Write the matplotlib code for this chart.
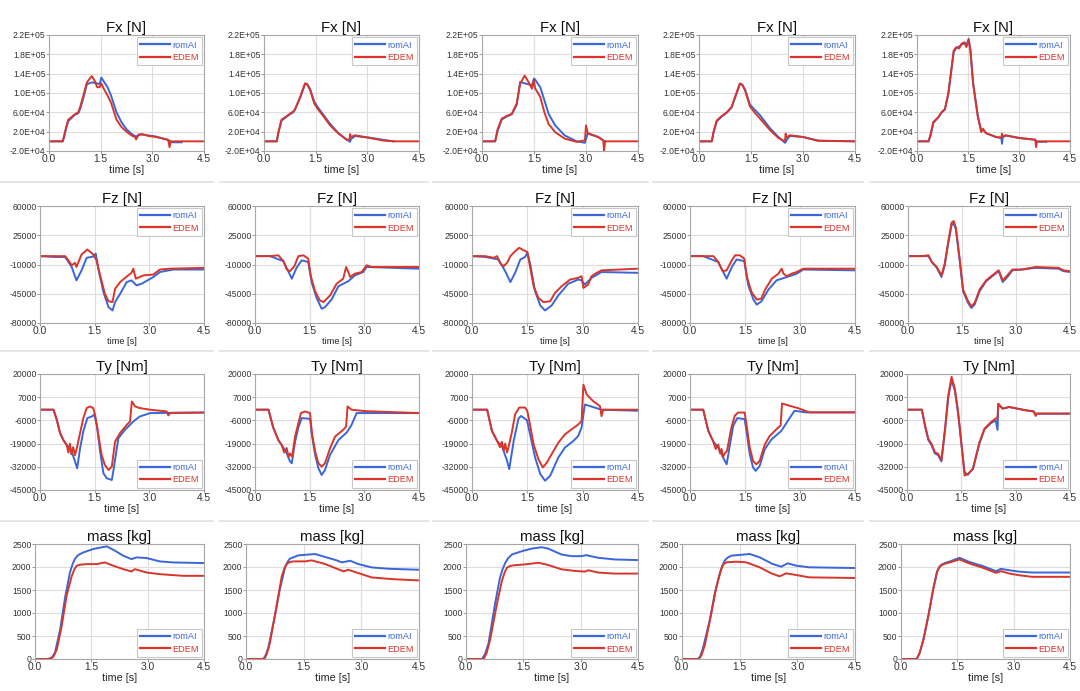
import numpy as np
import matplotlib
matplotlib.use('Agg')
import matplotlib.pyplot as plt
from matplotlib.ticker import FormatStrFormatter
from matplotlib.lines import Line2D

nan = np.nan

# ---------------- data ----------------
series_names = ['romAI', 'EDEM']
titles = ['Fx [N]', 'Fz [N]', 'Ty [Nm]', 'mass [kg]']
x_ticks = [0.0, 1.5, 3.0, 4.5]
fx_ticks = [-2.0e4, 2.0e4, 6.0e4, 1.0e5, 1.4e5, 1.8e5, 2.2e5]
fz_ticks = [-80000, -45000, -10000, 25000, 60000]
ty_ticks = [-45000, -32000, -19000, -6000, 7000, 20000]
mass_ticks = [0, 500, 1000, 1500, 2000, 2500]

# Fx row
fx1_t = [0, 0.40, 0.45, 0.50, 0.56, 0.65, 0.75, 0.85, 0.90, 1.00, 1.10, 1.24, 1.32, 1.40, 1.47, 1.52, 1.58, 1.70, 1.80, 1.96, 2.10, 2.25, 2.40, 2.50, 2.53, 2.60, 2.70, 2.90, 3.10, 3.30, 3.46, 3.50, 3.53, 3.85, 4.5]
fx1_edem = [0, 0, 15000, 30000, 45000, 50000, 56000, 60000, 70000, 95000, 122000, 135000, 126000, 112000, 112000, 120000, 110000, 95000, 80000, 45000, 30000, 20000, 12000, 9000, 4000, 14000, 15000, 11000, 9000, 6000, 3000, -12000, 0, 0, 0]
fx1_rom = [0, 0, 12000, 28000, 42000, 48000, 55000, 58000, 66000, 90000, 118000, 122000, 121000, 120000, 118000, 132000, 125000, 112000, 95000, 60000, 40000, 25000, 15000, 11000, 10000, 13000, 14000, 12000, 10000, 6000, 3000, 1000, -2000, -2000, nan]

fx2_t = [0, 0.37, 0.42, 0.51, 0.62, 0.75, 0.85, 0.90, 1.05, 1.19, 1.25, 1.34, 1.46, 1.55, 1.67, 1.92, 2.16, 2.40, 2.48, 2.50, 2.52, 2.64, 3.03, 3.47, 3.76, 4.5]
fx2_edem = [0, 0, 20000, 45000, 50000, 57000, 62000, 66000, 92000, 120000, 118000, 106000, 78000, 68000, 57000, 33000, 16000, 4000, 3000, 15000, 9000, 12500, 7500, 1500, 0, 0]
fx2_rom = [0, 0, 18000, 43000, 49000, 56000, 60000, 66000, 90000, 118000, 119000, 108000, 82000, 72000, 60000, 36000, 17000, 3000, 0, -1000, 4000, 11000, 8000, 3000, 0, nan]

fx3_t = [0, 0.38, 0.45, 0.57, 0.70, 0.86, 1.00, 1.10, 1.23, 1.34, 1.44, 1.50, 1.53, 1.68, 1.80, 1.92, 2.11, 2.39, 2.73, 2.97, 3.00, 3.05, 3.35, 3.50, 3.52, 3.55, 4.5]
fx3_edem = [0, 0, 25000, 47000, 52000, 57000, 78000, 119000, 136000, 123000, 109000, 126000, 110000, 92000, 60000, 36000, 19000, 5500, -1000, 2000, 33000, 17000, 9000, 2000, -20000, 0, 0]
fx3_rom = [0, 0, 22000, 45000, 51000, 56000, 75000, 123000, 120000, 118000, 116000, 130000, 128000, 112000, 85000, 57000, 33000, 12000, 0, -3000, 5000, 16000, 9000, 2000, 0, 0, nan]

fx4_t = [0, 0.37, 0.42, 0.51, 0.65, 0.80, 0.94, 1.04, 1.18, 1.25, 1.33, 1.47, 1.60, 1.76, 2.05, 2.29, 2.48, 2.50, 2.53, 2.62, 3.00, 3.44, 4.5]
fx4_edem = [0, 0, 20000, 43000, 52000, 60000, 71000, 92000, 120000, 117000, 105000, 72000, 60000, 47000, 23000, 7000, 0, 16000, 8000, 12500, 9000, 1000, 0]
fx4_rom = [0, 0, 18000, 41000, 51000, 59000, 70000, 90000, 118000, 117000, 107000, 76000, 66000, 54000, 27000, 9000, -3000, -2000, 3000, 11000, 9000, 1500, 0]

fx5_t = [0, 0.34, 0.40, 0.48, 0.63, 0.73, 0.82, 0.92, 1.02, 1.08, 1.16, 1.24, 1.31, 1.40, 1.45, 1.52, 1.57, 1.65, 1.79, 1.89, 1.94, 2.03, 2.32, 2.48, 2.50, 2.52, 2.61, 3.00, 3.48, 3.50, 3.53, 3.80, 4.5]
fx5_edem = [0, 0, 15000, 40000, 50000, 61000, 66000, 99000, 154000, 188000, 195000, 192000, 202000, 205000, 195000, 210000, 188000, 119000, 50000, 19000, 26000, 17000, 9000, 7500, 16000, 10000, 12500, 7000, 3500, -12000, 0, 0, 0]
fx5_rom = [0, 0, 12000, 38000, 50000, 60000, 66000, 97000, 152000, 185000, 193000, 196000, 200000, 203000, 198000, 212000, 190000, 122000, 52000, 22000, 24000, 17000, 9000, 7000, -5000, 8000, 12000, 7000, 3000, 1000, -1000, -1000, nan]

# Fz row
fz1_rom_t = [0, 0.41, 0.69, 0.87, 1.00, 1.14, 1.28, 1.46, 1.53, 1.60, 1.74, 1.88, 1.99, 2.06, 2.20, 2.38, 2.51, 2.65, 2.79, 3.11, 3.29, 3.66, 4.5]
fz1_rom = [0, -1000, -1000, -13000, -29000, -17000, -2000, -500, 3000, -15000, -43000, -61000, -65000, -55000, -45000, -31000, -29000, -35000, -33000, -25000, -19000, -16000, -16000]
fz1_edem_t = [0, 0.41, 0.69, 0.78, 0.87, 0.96, 1.00, 1.14, 1.30, 1.46, 1.55, 1.65, 1.78, 1.88, 1.99, 2.06, 2.20, 2.42, 2.51, 2.56, 2.63, 2.84, 3.11, 3.29, 3.57, 4.5]
fz1_edem = [0, 0, 0, -5000, -11000, -8000, -13000, 2000, 8000, 2000, -5000, -23000, -45000, -54000, -55000, -39000, -31000, -23000, -20000, -15000, -27000, -23000, -22000, -16000, -15000, -14000]

fz2_rom_t = [0, 0.41, 0.78, 1.01, 1.14, 1.28, 1.46, 1.56, 1.69, 1.83, 1.92, 2.10, 2.29, 2.56, 2.74, 2.97, 3.06, 4.5]
fz2_rom = [0, 0, -6000, -27000, -14000, -5000, -7000, -32000, -50000, -63000, -61000, -52000, -36000, -30000, -23000, -19000, -13000, -15000]
fz2_edem_t = [0, 0.41, 0.64, 0.78, 0.87, 0.96, 1.08, 1.19, 1.33, 1.46, 1.53, 1.65, 1.78, 1.88, 2.06, 2.24, 2.42, 2.50, 2.56, 2.61, 2.74, 2.93, 3.06, 3.20, 4.5]
fz2_edem = [0, 0, 1000, -6000, -16000, -18000, -12000, 0, 1000, -3000, -24000, -42000, -53000, -55000, -47000, -33000, -27000, -13000, -19000, -25000, -21000, -19000, -11000, -13000, -13000]

fz3_rom_t = [0, 0.36, 0.72, 0.90, 1.04, 1.17, 1.31, 1.44, 1.50, 1.58, 1.71, 1.85, 1.98, 2.16, 2.34, 2.61, 2.88, 2.97, 3.06, 3.24, 3.51, 4.5]
fz3_rom = [0, -1000, -4000, -18000, -31000, -20000, -4000, -1000, 4000, -10000, -42000, -59000, -65000, -59000, -47000, -33000, -28000, -29000, -34000, -26000, -19000, -20000]
fz3_edem_t = [0, 0.36, 0.59, 0.68, 0.77, 0.86, 0.95, 1.04, 1.17, 1.28, 1.40, 1.50, 1.58, 1.67, 1.80, 1.94, 2.12, 2.25, 2.43, 2.66, 2.88, 2.97, 3.02, 3.15, 3.24, 3.38, 3.51, 4.5]
fz3_edem = [0, 0, -2000, 0, -9000, -12000, -8000, 0, 6000, 10000, 7000, 5000, -14000, -36000, -50000, -55000, -54000, -44000, -36000, -28000, -26000, -24000, -38000, -34000, -24000, -20000, -17000, -15000]

fz4_rom_t = [0, 0.36, 0.77, 1.00, 1.14, 1.27, 1.48, 1.59, 1.73, 1.82, 1.95, 2.14, 2.36, 2.64, 2.91, 3.09, 4.5]
fz4_rom = [0, 0, -7000, -27000, -13000, -4000, -6000, -35000, -52000, -58000, -54000, -40000, -29000, -25000, -21000, -16000, -17000]
fz4_edem_t = [0, 0.36, 0.64, 0.77, 0.89, 1.00, 1.14, 1.23, 1.36, 1.48, 1.55, 1.68, 1.82, 1.94, 2.05, 2.23, 2.41, 2.50, 2.55, 2.64, 2.77, 2.91, 3.09, 4.5]
fz4_edem = [0, 0, 0, -7000, -18000, -17000, -5000, 1000, 1000, -3000, -25000, -43000, -52000, -51000, -40000, -27000, -21000, -15000, -21000, -24000, -21000, -19000, -15000, -15000]

fz5_t = [0, 0.38, 0.57, 0.66, 0.80, 0.93, 1.02, 1.12, 1.21, 1.27, 1.33, 1.44, 1.53, 1.67, 1.76, 1.85, 1.99, 2.17, 2.40, 2.52, 2.63, 2.76, 2.90, 3.17, 3.54, 4.18, 4.32, 4.5]
fz5_edem = [0, 0, 1000, -7000, -13000, -23000, -9000, 18000, 40000, 42000, 34000, -5000, -40000, -54000, -60000, -56000, -40000, -29000, -21000, -17000, -29000, -23000, -16000, -16000, -13000, -14000, -17000, -18000]
fz5_rom = [0, 0, 0, -7000, -14000, -25000, -11000, 16000, 37000, 39000, 32000, -7000, -42000, -56000, -62000, -58000, -42000, -30000, -22000, -18000, -31000, -25000, -17000, -16000, -14000, -15000, -18000, -19000]

# Ty row
ty1_rom_t = [0, 0.37, 0.46, 0.55, 0.64, 0.73, 0.82, 0.87, 0.96, 1.02, 1.10, 1.19, 1.30, 1.42, 1.49, 1.56, 1.65, 1.74, 1.83, 1.97, 2.01, 2.15, 2.33, 2.47, 2.56, 2.74, 3.02, 4.5]
ty1_rom = [0, 0, -5600, -13000, -17000, -19700, -21600, -23500, -29000, -32800, -21600, -12000, -4700, -3800, -2800, -8500, -23500, -35600, -38400, -39400, -34700, -16000, -11300, -8500, -6600, -3800, -1900, -1600]
ty1_edem_t = [0, 0.37, 0.46, 0.55, 0.64, 0.73, 0.78, 0.82, 0.86, 0.91, 0.96, 1.01, 1.10, 1.19, 1.28, 1.37, 1.46, 1.51, 1.60, 1.69, 1.78, 1.88, 1.97, 2.06, 2.20, 2.38, 2.47, 2.52, 2.61, 2.74, 3.02, 3.48, 3.52, 3.57, 4.5]
ty1_edem = [0, 0, -5600, -13000, -17000, -19700, -24000, -19000, -25000, -21000, -25500, -21600, -13000, -4700, 900, 1800, 900, -2800, -14000, -25300, -31000, -33800, -31900, -17900, -13000, -8500, -6600, 4600, 1800, 900, 0, -1000, -3200, -1800, -1600]

ty2_rom_t = [0, 0.37, 0.50, 0.64, 0.73, 0.87, 0.96, 1.01, 1.10, 1.19, 1.28, 1.51, 1.56, 1.65, 1.74, 1.83, 1.92, 2.06, 2.29, 2.52, 2.65, 2.79, 4.5]
ty2_rom = [0, 0, -10000, -17000, -19700, -24400, -29000, -30000, -17900, -10000, -4700, -5100, -14000, -25300, -32800, -36600, -33800, -25300, -17000, -12700, -8500, -1900, -1900]
ty2_edem_t = [0, 0.37, 0.50, 0.64, 0.73, 0.80, 0.87, 0.92, 0.96, 1.02, 1.10, 1.19, 1.26, 1.37, 1.51, 1.56, 1.65, 1.74, 1.83, 1.92, 2.06, 2.20, 2.42, 2.50, 2.54, 2.65, 3.02, 4.5]
ty2_edem = [0, 0, -10000, -17000, -19700, -24000, -21500, -26500, -24500, -26300, -15000, -7600, -1900, -1000, -1900, -13000, -23500, -30000, -31900, -30000, -21600, -15000, -11300, -9400, 1800, 0, -800, -1900]

ty3_rom_t = [0, 0.41, 0.54, 0.68, 0.81, 0.95, 1.01, 1.13, 1.26, 1.33, 1.49, 1.58, 1.71, 1.85, 1.98, 2.12, 2.34, 2.52, 2.75, 2.88, 2.97, 3.06, 3.20, 3.51, 4.5]
ty3_rom = [0, 0, -11900, -17500, -20300, -28600, -33300, -17500, -5000, -3500, -5900, -14300, -26800, -36000, -39800, -37000, -26800, -21200, -17500, -14700, -10000, 2900, 2000, 0, -600]
ty3_edem_t = [0, 0.41, 0.54, 0.68, 0.76, 0.81, 0.86, 0.90, 0.95, 0.99, 1.08, 1.17, 1.28, 1.44, 1.50, 1.58, 1.67, 1.80, 1.92, 2.03, 2.16, 2.34, 2.52, 2.70, 2.88, 2.97, 3.02, 3.11, 3.29, 3.47, 3.51, 3.56, 4.5]
ty3_edem = [0, 0, -11900, -17500, -21000, -18000, -23000, -19000, -24000, -21000, -12700, -2500, 1200, 1200, -800, -9200, -19400, -27700, -32400, -29600, -24900, -18500, -13800, -11000, -8300, -6400, 14000, 8500, 4700, 2000, -3600, 0, 0]

ty4_rom_t = [0, 0.36, 0.50, 0.63, 0.77, 0.86, 0.95, 1.00, 1.09, 1.18, 1.29, 1.49, 1.54, 1.63, 1.72, 1.79, 1.90, 2.04, 2.22, 2.49, 2.72, 2.85, 3.17, 4.5]
ty4_rom = [0, 0, -11900, -17600, -21300, -25000, -28700, -30600, -19500, -9000, -4700, -5300, -12000, -25000, -32400, -34300, -31500, -22100, -16700, -11900, -4600, -600, -1500, -1500]
ty4_edem_t = [0, 0.36, 0.50, 0.63, 0.70, 0.77, 0.82, 0.86, 0.90, 0.95, 1.01, 1.13, 1.22, 1.31, 1.49, 1.54, 1.63, 1.72, 1.81, 1.90, 2.04, 2.17, 2.40, 2.47, 2.51, 2.72, 2.94, 3.26, 4.5]
ty4_edem = [0, 0, -11900, -17600, -22000, -19500, -24500, -22000, -26500, -24500, -23000, -9900, -3400, -1600, -1600, -8200, -21300, -28700, -30600, -28700, -19500, -14800, -10100, -9000, 3500, 2200, 900, -1500, -1500]

ty5_t = [0, 0.41, 0.50, 0.59, 0.68, 0.77, 0.86, 0.95, 1.05, 1.14, 1.23, 1.32, 1.41, 1.50, 1.59, 1.68, 1.82, 1.91, 2.00, 2.14, 2.32, 2.45, 2.50, 2.52, 2.64, 2.82, 3.27, 3.50, 3.55, 3.59, 4.5]
ty5_edem = [0, 0, -8900, -16500, -19200, -23900, -24700, -28400, -10600, 8100, 18400, 11800, -1300, -18200, -36900, -36000, -33200, -25700, -18200, -10600, -6900, -5000, -4000, 3400, 600, 1500, -300, -1000, -3500, -2200, -2200]
ty5_rom = [0, 0, -9500, -17000, -20000, -24500, -25500, -29000, -11500, 7000, 16500, 11000, -2000, -19000, -35000, -36500, -33000, -26000, -19000, -11000, -7500, -6000, -11300, 3000, 600, 1500, -300, -1000, -2500, -2200, -2200]

# mass row
m1_rom_t = [0, 0.35, 0.45, 0.53, 0.67, 0.80, 0.93, 1.00, 1.06, 1.15, 1.29, 1.55, 1.91, 2.13, 2.35, 2.57, 2.71, 2.97, 3.33, 3.68, 4.5]
m1_rom = [0, 0, 35, 131, 641, 1334, 1880, 2060, 2172, 2260, 2318, 2391, 2449, 2354, 2245, 2172, 2209, 2194, 2121, 2099, 2085]
m1_edem_t = [0, 0.40, 0.49, 0.58, 0.71, 0.84, 0.98, 1.05, 1.11, 1.20, 1.38, 1.64, 1.86, 2.09, 2.35, 2.57, 2.66, 2.97, 3.33, 3.95, 4.5]
m1_edem = [0, 0, 50, 204, 714, 1370, 1808, 1950, 2026, 2050, 2063, 2063, 2099, 2026, 1953, 1902, 1953, 1880, 1844, 1808, 1808]

m2_rom_t = [0, 0.45, 0.51, 0.58, 0.75, 0.88, 1.01, 1.08, 1.14, 1.36, 1.80, 2.06, 2.36, 2.49, 2.71, 2.92, 3.27, 3.70, 4.5]
m2_rom = [0, 0, 80, 240, 930, 1512, 1977, 2110, 2180, 2253, 2282, 2217, 2144, 2100, 2136, 2064, 1991, 1962, 1940]
m2_edem_t = [0, 0.48, 0.54, 0.62, 0.80, 0.93, 1.00, 1.06, 1.13, 1.23, 1.54, 1.71, 2.06, 2.32, 2.54, 2.66, 2.92, 3.27, 3.79, 4.5]
m2_edem = [0, 0, 110, 342, 1177, 1795, 1975, 2064, 2105, 2122, 2122, 2144, 2064, 1977, 1904, 1940, 1868, 1773, 1737, 1708]

m3_rom_t = [0, 0.42, 0.50, 0.59, 0.76, 0.89, 0.96, 1.03, 1.10, 1.20, 1.46, 1.72, 1.98, 2.15, 2.50, 2.76, 3.02, 3.15, 3.46, 3.89, 4.5]
m3_rom = [0, 0, 110, 343, 1200, 1771, 1960, 2093, 2190, 2271, 2343, 2400, 2429, 2400, 2271, 2236, 2236, 2257, 2200, 2164, 2150]
m3_edem_t = [0, 0.46, 0.54, 0.63, 0.81, 0.94, 1.01, 1.07, 1.15, 1.24, 1.55, 1.90, 2.15, 2.50, 2.85, 3.11, 3.20, 3.46, 3.89, 4.5]
m3_edem = [0, 0, 130, 414, 1200, 1700, 1880, 1986, 2020, 2036, 2057, 2093, 2043, 1950, 1914, 1900, 1929, 1879, 1857, 1857]

m4_rom_t = [0, 0.42, 0.48, 0.54, 0.72, 0.85, 0.98, 1.05, 1.11, 1.18, 1.28, 1.58, 1.76, 2.02, 2.36, 2.58, 2.75, 2.97, 3.31, 4.5]
m4_rom = [0, 0, 70, 217, 833, 1413, 1848, 2030, 2138, 2200, 2246, 2268, 2283, 2210, 2065, 2007, 2080, 2029, 1993, 1978]
m4_edem_t = [0, 0.44, 0.51, 0.59, 0.76, 0.89, 1.02, 1.08, 1.15, 1.41, 1.67, 2.02, 2.32, 2.54, 2.71, 2.97, 3.31, 4.5]
m4_edem = [0, 0, 90, 290, 978, 1558, 1957, 2060, 2101, 2116, 2101, 1993, 1862, 1797, 1862, 1826, 1775, 1761]

m5_t = [0, 0.42, 0.50, 0.60, 0.73, 0.86, 0.96, 1.02, 1.08, 1.18, 1.30, 1.56, 1.82, 2.18, 2.53, 2.66, 2.88, 3.14, 3.49, 4.5]
m5_edem = [0, 0, 140, 437, 948, 1531, 1895, 1990, 2041, 2075, 2099, 2165, 2077, 1983, 1873, 1910, 1859, 1822, 1786, 1786]
m5_rom = [0, 0, 135, 430, 940, 1525, 1900, 2000, 2050, 2090, 2120, 2200, 2110, 2020, 1910, 1960, 1930, 1900, 1880, 1880]

panels = [
    [(fx1_t, fx1_rom, fx1_t, fx1_edem), (fx2_t, fx2_rom, fx2_t, fx2_edem), (fx3_t, fx3_rom, fx3_t, fx3_edem),
     (fx4_t, fx4_rom, fx4_t, fx4_edem), (fx5_t, fx5_rom, fx5_t, fx5_edem)],
    [(fz1_rom_t, fz1_rom, fz1_edem_t, fz1_edem), (fz2_rom_t, fz2_rom, fz2_edem_t, fz2_edem),
     (fz3_rom_t, fz3_rom, fz3_edem_t, fz3_edem), (fz4_rom_t, fz4_rom, fz4_edem_t, fz4_edem),
     (fz5_t, fz5_rom, fz5_t, fz5_edem)],
    [(ty1_rom_t, ty1_rom, ty1_edem_t, ty1_edem), (ty2_rom_t, ty2_rom, ty2_edem_t, ty2_edem),
     (ty3_rom_t, ty3_rom, ty3_edem_t, ty3_edem), (ty4_rom_t, ty4_rom, ty4_edem_t, ty4_edem),
     (ty5_t, ty5_rom, ty5_t, ty5_edem)],
    [(m1_rom_t, m1_rom, m1_edem_t, m1_edem), (m2_rom_t, m2_rom, m2_edem_t, m2_edem),
     (m3_rom_t, m3_rom, m3_edem_t, m3_edem), (m4_rom_t, m4_rom, m4_edem_t, m4_edem),
     (m5_t, m5_rom, m5_t, m5_edem)],
]

# ---------------- style / layout ----------------
BLUE = '#3a66d9'
RED = '#d8352b'
plt.rcParams['font.family'] = ['Liberation Sans', 'DejaVu Sans']

W, H = 1080, 691
fig = plt.figure(figsize=(W / 100, H / 100), dpi=100)
fig.patch.set_facecolor('white')

row_top = [35, 206, 374, 544]
row_bot = [151, 323, 490, 659]
col_right = [204, 419, 638, 855, 1070]
col_left = [[49, 264, 482, 699, 917],
            [40, 255, 472, 690, 908],
            [40, 255, 472, 690, 907],
            [35, 246, 466, 682, 901]]

row_ticks = [fx_ticks, fz_ticks, ty_ticks, mass_ticks]
row_lims = [(-2.0e4, 2.2e5), (-80000, 60000), (-45000, 20000), (0, 2500)]
row_fmt = ['%.1E', '%d', '%d', '%d']
legend_loc = ['upper right', 'upper right', 'lower right', 'lower right']
xlabel_size = [7.8, 6.6, 7.8, 7.8]

# separators between rows
sep_y = [182, 351, 521]
sep_x = [(0, 213), (220, 428), (433, 648), (653, 863), (870, 1080)]
for yy in sep_y:
    for x0, x1 in sep_x:
        fig.add_artist(Line2D([x0 / W, x1 / W], [1 - yy / H, 1 - yy / H],
                              color='#e3e3e3', lw=1.3))

for r in range(4):
    for c in range(5):
        l = col_left[r][c]
        rgt = col_right[c]
        ax = fig.add_axes([l / W, 1 - row_bot[r] / H, (rgt - l) / W, (row_bot[r] - row_top[r]) / H])
        tr, yr, te, ye = panels[r][c]
        ax.plot(tr, yr, color=BLUE, lw=1.4, label=series_names[0])
        ax.plot(te, ye, color=RED, lw=1.4, label=series_names[1])
        ax.set_xlim(0, 4.5)
        ax.set_ylim(*row_lims[r])
        ax.set_xticks(x_ticks)
        ax.set_yticks(row_ticks[r])
        ax.xaxis.set_major_formatter(FormatStrFormatter('%.1f'))
        ax.yaxis.set_major_formatter(FormatStrFormatter(row_fmt[r]))
        ax.grid(True, color='#dddddd', lw=0.8)
        ax.set_axisbelow(True)
        for s in ax.spines.values():
            s.set_color('#a8a8a8')
            s.set_linewidth(0.8)
        ax.tick_params(axis='y', length=2, width=0.6, color='#888888', pad=0.5,
                       labelsize=6.2, labelcolor='#333333')
        ax.tick_params(axis='x', length=2, width=0.6, color='#888888', pad=0.5,
                       labelsize=7.4, labelcolor='#333333')
        ax.set_title(titles[r], fontsize=10.8, pad=2.5, color='#111111')
        ax.set_xlabel('time [s]', fontsize=xlabel_size[r], labelpad=0.5, color='#222222')
        leg = ax.legend(loc=legend_loc[r], fontsize=6.6, frameon=True, fancybox=False,
                        edgecolor='#c8c8c8', framealpha=1, borderaxespad=0.25,
                        handlelength=3.3, handletextpad=0.2, labelspacing=0.35,
                        borderpad=0.35, labelcolor='linecolor')
        leg.get_frame().set_linewidth(0.8)
        for ln in leg.get_lines():
            ln.set_linewidth(1.6)

fig.savefig('out.png', dpi=100, facecolor='white')
